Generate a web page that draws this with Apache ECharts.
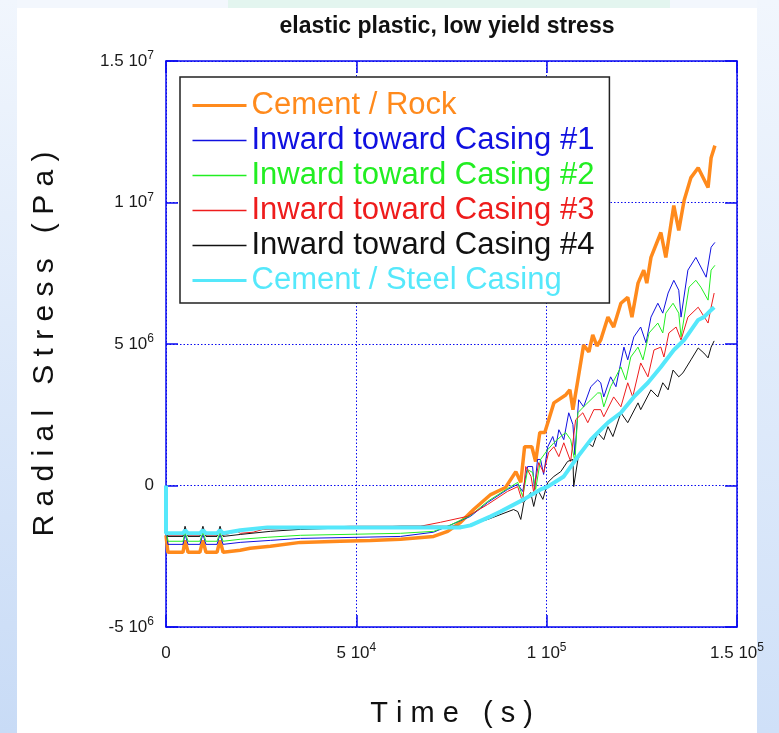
<!DOCTYPE html>
<html>
<head>
<meta charset="utf-8">
<script src="https://cdn.jsdelivr.net/npm/echarts@6/dist/echarts.min.js"></script>
<style>
html,body{margin:0;padding:0;}
body{width:779px;height:733px;position:relative;overflow:hidden;background:#f3f7fd;}
#lstrip{position:absolute;left:0;top:0;width:17px;height:733px;background:linear-gradient(#f1f6fd,#c8dbf6);}
#rstrip{position:absolute;right:0;top:0;width:22px;height:733px;background:linear-gradient(#f1f6fd,#cfe0f8);}
#mint{position:absolute;left:228px;top:0;width:442px;height:8px;background:#e3f5ef;}
#panel{position:absolute;left:17px;top:8px;width:740px;height:725px;background:#fff;}
#chart{position:absolute;left:0;top:0;width:779px;height:733px;}
</style>
</head>
<body>
<div id="lstrip"></div><div id="rstrip"></div><div id="mint"></div><div id="panel"></div>
<div id="chart"></div>
<script>
// ---- data (time in 10^3 s, radial stress in 10^6 Pa) ----
const seriesNames = ['Cement / Rock','Inward toward Casing #1','Inward toward Casing #2','Inward toward Casing #3','Inward toward Casing #4','Cement / Steel Casing'];

const rockTime = [0,0.5,4.47,5.0,5.8,8.9,9.7,10.5,13.4,14.2,15.0,19.5,22.1,27.4,35.3,45.8,53.7,61.6,70.3,74.0,77.4,80.8,85.3,89.2,91.9,93.2,94.2,96.1,97.1,98.2,99.5,100.3,101.9,105.0,106.1,106.9,108.2,109.7,111.1,112.1,113.2,114.2,116.1,117.6,119.5,121.3,122.4,124.0,125.5,126.3,127.4,130.0,131.3,133.4,134.7,136.1,137.9,139.8,142.4,143.2,144.2];
const rockStress = [-1.76,-2.36,-2.36,-1.94,-2.36,-2.36,-1.94,-2.36,-2.36,-1.94,-2.36,-2.29,-2.22,-2.15,-2.01,-1.97,-1.94,-1.90,-1.80,-1.62,-1.30,-0.85,-0.32,-0.07,0.49,0.11,1.37,1.37,0.85,1.87,1.87,2.22,2.92,3.20,3.38,2.68,3.73,4.96,4.72,5.32,4.93,5.14,5.95,5.60,6.44,6.65,5.95,7.15,7.61,7.15,8.06,8.94,8.06,9.89,9.01,10.07,10.88,11.23,10.53,11.58,12.01];

const casing1Time = [0,0.5,4.47,5.0,5.8,8.9,9.7,10.5,13.4,14.2,15.0,19.5,27.4,35.3,61.6,70.3,74.0,80.0,84.5,89.7,92.4,93.7,95.0,96.3,96.8,97.6,98.4,99.2,100.3,101.6,102.4,103.2,104.5,105.8,106.9,107.4,108.4,109.7,111.6,113.4,114.2,115.0,116.8,118.2,120.3,121.3,122.9,124.7,126.1,127.4,129.2,130.5,131.9,133.4,134.7,135.3,137.1,139.2,141.9,143.2,144.2];
const casing1Stress = [-1.55,-2.08,-2.08,-1.73,-2.08,-2.08,-1.73,-2.08,-2.08,-1.73,-2.08,-2.01,-1.94,-1.87,-1.80,-1.65,-1.44,-1.09,-0.60,-0.14,0.04,-0.21,0.67,0.67,-0.14,0.92,0.92,0.39,1.37,1.73,1.37,1.97,1.62,2.57,2.15,1.09,3.03,2.78,3.49,3.73,3.63,3.13,3.84,3.49,4.89,4.44,5.25,5.60,5.04,5.95,6.44,6.09,6.80,7.25,6.90,5.95,7.61,8.06,7.36,8.42,8.59];

const casing2Time = [0,0.5,4.47,5.0,5.8,8.9,9.7,10.5,13.4,14.2,15.0,19.5,26.6,35.3,61.6,70.3,74.0,80.0,84.5,89.7,92.4,93.7,95.0,96.3,97.1,98.4,100.3,101.9,103.7,105.0,106.3,107.4,108.2,109.7,111.6,113.4,114.2,115.0,116.8,119.5,120.8,122.1,124.0,125.3,126.9,129.2,130.5,131.3,133.2,134.7,135.3,137.4,139.2,140.5,142.4,143.2,144.2];
const casing2Stress = [-1.48,-1.97,-1.97,-1.65,-1.97,-1.97,-1.65,-1.97,-1.97,-1.65,-1.97,-1.90,-1.83,-1.76,-1.69,-1.62,-1.44,-1.06,-0.56,-0.11,0.11,-0.39,0.56,0.46,-0.14,0.92,1.27,1.51,1.73,1.87,1.62,0.85,2.57,2.78,3.03,3.27,3.27,2.78,3.49,4.19,3.73,4.54,4.89,4.44,5.39,5.74,5.39,6.09,6.44,6.09,5.25,7.01,7.25,7.01,6.55,7.61,7.78];

const casing3Time = [0,0.5,4.47,5.0,5.8,8.9,9.7,10.5,13.4,14.2,15.0,18.7,19.5,22.9,25.5,35.3,48.4,66.8,72.1,79.2,84.5,89.7,92.4,93.7,94.5,95.9,96.6,97.9,99.2,100.5,101.9,103.2,104.5,106.3,107.6,109.5,110.8,112.4,114.2,115.0,117.6,119.5,121.3,122.6,124.7,126.6,128.2,130.0,130.8,132.1,134.0,135.3,137.1,139.8,142.4,143.2,144.0];
const casing3Stress = [-1.55,-1.76,-1.76,-1.51,-1.76,-1.76,-1.51,-1.76,-1.76,-1.51,-1.76,-1.62,-1.69,-1.65,-1.55,-1.51,-1.44,-1.44,-1.30,-1.09,-0.67,-0.21,-0.04,-0.60,0.67,0.32,-0.25,0.81,0.46,1.16,1.37,1.02,1.51,0.85,2.32,2.57,2.22,2.68,2.68,2.43,3.13,2.78,3.63,3.13,4.33,3.84,4.79,4.89,4.54,5.39,5.60,5.14,5.95,6.30,5.74,6.30,6.80];

const casing4Time = [0,0.5,4.47,5.0,5.8,8.9,9.7,10.5,13.4,14.2,15.0,19.5,27.4,35.3,61.6,78.2,84.5,91.3,92.4,93.2,94.0,95.8,96.6,97.6,99.0,100.3,101.9,103.7,105.5,106.9,107.1,108.2,109.0,110.8,112.1,113.4,115.0,116.1,117.4,119.5,121.3,124.0,124.7,127.4,129.2,130.5,131.9,133.2,134.7,135.8,137.9,139.8,141.3,142.4,143.2,144.0];
const casing4Stress = [-1.55,-1.80,-1.80,-1.44,-1.80,-1.80,-1.44,-1.80,-1.80,-1.44,-1.80,-1.73,-1.62,-1.55,-1.44,-1.44,-1.20,-0.85,-0.92,-1.20,-0.60,-0.25,-0.74,-0.14,-0.49,0.11,0.32,0.49,0.85,0.92,-0.04,0.92,1.16,1.51,1.37,1.87,1.62,2.08,1.73,2.57,2.22,2.92,2.68,3.38,3.13,3.63,3.38,4.08,3.84,3.98,4.44,4.86,4.68,4.51,4.89,5.11];

const steelTime = [0,0,4.47,5.0,5.8,8.9,9.7,10.5,13.4,14.2,15.0,19.5,26.6,61.6,77.4,80.0,85.3,87.9,94.0,98.4,100.3,104.5,108.2,111.6,114.2,116.1,119.5,122.9,126.6,130.0,133.4,136.1,139.8,141.3,143.2,144.0];
const steelStress = [0,-1.69,-1.69,-1.58,-1.69,-1.69,-1.58,-1.69,-1.69,-1.58,-1.69,-1.58,-1.48,-1.48,-1.48,-1.41,-1.09,-0.92,-0.49,-0.14,-0.04,0.32,1.02,1.62,1.97,2.22,2.57,3.13,3.63,4.19,4.79,5.14,5.85,5.95,6.20,6.30];

// tick labels
const xTickValues = [0,50,100,150];
const xTickLabels = ['0','5 10^4','1 10^5','1.5 10^5'];
const yTickValues = [-5,0,5,10,15];
const yTickLabels = ['-5 10^6','0','5 10^6','1 10^7','1.5 10^7'];

const colors = ['#ff8a1c','#1010e0','#22ee22','#ee1c1c','#111111','#55e8fb'];
const widths = [3.5,1,1,1,1,4];

function zip(t,v){ return t.map((x,i)=>[x,v[i]]); }
const seriesData = [zip(rockTime,rockStress),zip(casing1Time,casing1Stress),zip(casing2Time,casing2Stress),zip(casing3Time,casing3Stress),zip(casing4Time,casing4Stress),zip(steelTime,steelStress)];

function richLabel(s){
  const m = s.split('^');
  if (m.length===1) return '{b|'+s+'}';
  return '{b|'+m[0]+'}{s|'+m[1]+'}';
}
function fmtFrom(vals,labels){
  return function(v){ const i = vals.findIndex(x=>Math.abs(x-v)<1e-9); return i<0?'':richLabel(labels[i]); };
}
const rich = {
  b:{fontSize:17,fontFamily:'Liberation Sans',color:'#1a1a1a',lineHeight:22},
  s:{fontSize:12,fontFamily:'Liberation Sans',color:'#1a1a1a',verticalAlign:'top',lineHeight:22}
};
const blue = '#0a0af0';
const axisCommon = {
  axisLine:{show:true,onZero:false,lineStyle:{color:blue,width:1.5}},
  axisTick:{show:true,inside:true,length:12,lineStyle:{color:blue,width:1.5}}
};

const chart = echarts.init(document.getElementById('chart'),null,{renderer:'canvas'});
chart.setOption({
  backgroundColor:'transparent',
  animation:false,
  title:{text:'elastic plastic, low yield stress',left:442,top:10,textAlign:'center',
    textStyle:{fontSize:23,fontWeight:'bold',fontFamily:'Liberation Sans',color:'#111'}},
  grid:{left:166,right:42,top:61,bottom:103,containLabel:false},
  legend:{
    show:true,orient:'vertical',left:180,top:77,
    backgroundColor:'#fff',borderColor:'#222',borderWidth:1.5,
    padding:[13,15,7,11],itemGap:4,itemWidth:54,itemHeight:26,
    itemStyle:{opacity:0},
    textStyle:{fontSize:31,fontFamily:'Liberation Sans'},
    data:seriesNames.map((n,i)=>({name:n,textStyle:{color:colors[i]},
      lineStyle:{color:colors[i],width:widths[i]>2?3:1.3}}))
  },
  xAxis:[
    Object.assign({type:'value',min:0,max:150,interval:50,position:'bottom',
      name:'T i m e   ( s )',nameLocation:'middle',nameGap:72,
      nameTextStyle:{fontSize:29,fontFamily:'Liberation Sans',color:'#111'},
      axisLabel:{margin:15,formatter:fmtFrom(xTickValues,xTickLabels),rich:rich},
      splitLine:{show:true,lineStyle:{color:blue,type:[1.5,2],width:1}}},axisCommon),
    Object.assign({type:'value',min:0,max:150,interval:50,position:'top',
      axisLabel:{show:false},splitLine:{show:false}},axisCommon)
  ],
  yAxis:[
    Object.assign({type:'value',min:-5,max:15,interval:5,position:'left',
      name:'R a d i a l   S t r e s s   ( P a )',nameLocation:'middle',nameGap:106,nameRotate:90,
      nameTextStyle:{fontSize:30,fontFamily:'Liberation Sans',color:'#111'},
      axisLabel:{margin:12,formatter:fmtFrom(yTickValues,yTickLabels),rich:rich},
      splitLine:{show:true,lineStyle:{color:blue,type:[1.5,2],width:1}}},axisCommon),
    Object.assign({type:'value',min:-5,max:15,interval:5,position:'right',
      axisLabel:{show:false},splitLine:{show:false}},axisCommon)
  ],
  series:seriesNames.map((n,i)=>({
    name:n,type:'line',data:seriesData[i],showSymbol:false,symbol:'none',
    lineStyle:{color:colors[i],width:widths[i]},itemStyle:{color:colors[i]},
    z:[2,3,3,3,3,4][i]
  }))
});
</script>
</body>
</html>
